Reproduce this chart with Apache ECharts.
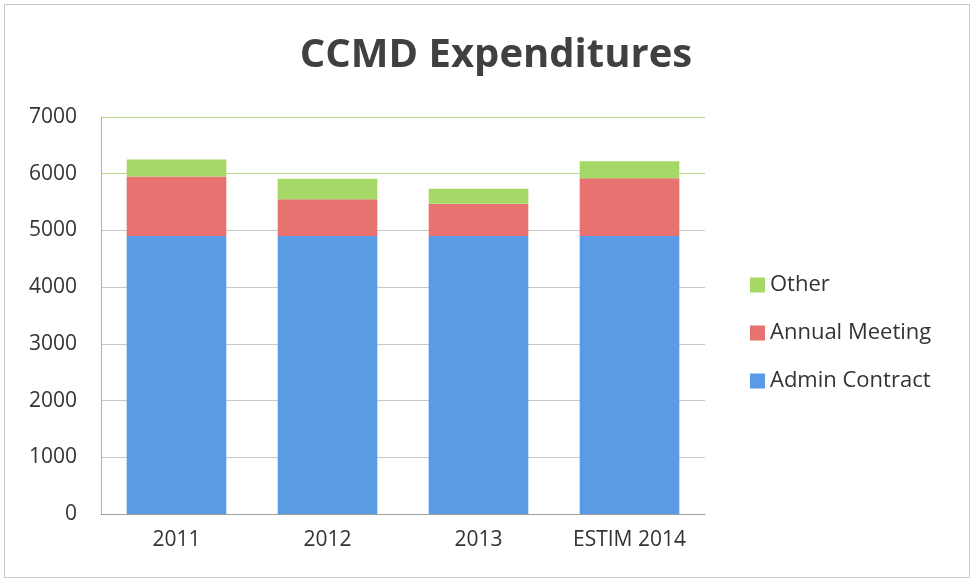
<!DOCTYPE html>
<html>
<head>
<meta charset="utf-8">
<script src="https://cdn.jsdelivr.net/npm/echarts@6/dist/echarts.min.js"></script>
<style>
  html, body { margin: 0; padding: 0; background: #fff; }
  #main { position: absolute; left: 4px; top: 4px; width: 964px; height: 572px; border: 1px solid #c8c8c8; }
</style>
</head>
<body>
<div id="main"></div>
<script>
const years = ['2011', '2012', '2013', 'ESTIM 2014']
const adminContract = [4900, 4900, 4900, 4900]
const annualMeeting = [1050, 650, 570, 1020]
const other = [300, 360, 265, 300]
const yTicks = { min: 0, max: 7000, interval: 1000 }

let chart = echarts.init(document.getElementById('main'))
chart.setOption({
    animation: false,
    textStyle: { fontFamily: 'Open Sans' },
    title: {
        text: 'CCMD Expenditures',
        left: 486,
        top: 26,
        textAlign: 'center',
        textStyle: { fontSize: 40, fontWeight: 'bold', color: '#404040', fontFamily: 'Open Sans' }
    },
    legend: {
        data: ['Other', 'Annual Meeting', 'Admin Contract'],
        orient: 'vertical',
        left: 740,
        top: 264,
        itemGap: 26,
        itemWidth: 15,
        itemHeight: 15,
        icon: 'rect',
        textStyle: { fontSize: 22, color: '#333' }
    },
    grid: {
        left: 96,
        right: 264,
        top: 112,
        bottom: 63
    },
    xAxis: {
        type: 'category',
        data: years,
        axisTick: { show: false },
        axisLine: { lineStyle: { color: '#a0a0a0' } },
        axisLabel: { fontSize: 21, color: '#333', margin: 16, interval: 0 }
    },
    yAxis: {
        type: 'value',
        min: yTicks.min,
        max: yTicks.max,
        interval: yTicks.interval,
        axisLine: { show: true, lineStyle: { color: '#b0b0b0' } },
        axisTick: { show: false },
        axisLabel: { fontSize: 21, color: '#333', margin: 24, formatter: v => String(v) },
        splitLine: { lineStyle: { color: ['#c8c8c8', '#c8c8c8', '#c8c8c8', '#c8c8c8', '#c8c8c8', '#c8c8c8', '#b5d98a', '#b5d98a'] } }
    },
    series: [{
        name: 'Admin Contract',
        type: 'bar',
        stack: 'total',
        barWidth: '66%',
        data: adminContract,
        itemStyle: { color: '#5b9be6' }
    }, {
        name: 'Annual Meeting',
        type: 'bar',
        stack: 'total',
        data: annualMeeting,
        itemStyle: { color: '#e7726f' }
    }, {
        name: 'Other',
        type: 'bar',
        stack: 'total',
        data: other,
        itemStyle: { color: '#a5d866' }
    }]
})
</script>
</body>
</html>
